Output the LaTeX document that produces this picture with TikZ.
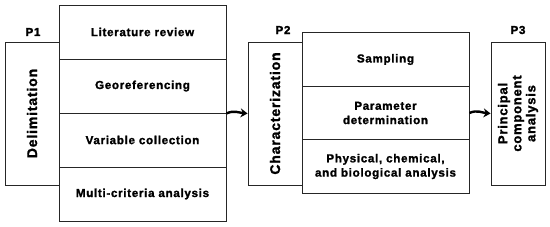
\documentclass[tikz,border=0pt]{standalone}
\usepackage{fontspec}
\setmainfont{Liberation Sans}[LetterSpace=6,BoldFeatures={FakeBold=1.6}]
\usetikzlibrary{arrows.meta}
\begin{document}
\begin{tikzpicture}[x=1pt,y=-1pt,
  box/.style={draw=black!85,line width=0.9pt,inner sep=0pt,font=\bfseries\fontsize{11.6}{14.3}\selectfont,align=center},
  side/.style={box,minimum width=54pt,minimum height=143pt},
  rowbox/.style={box,minimum width=167pt},
  vlabel/.style={rotate=90,font=\bfseries\fontsize{14}{14}\selectfont,align=center},
  plabel/.style={font=\bfseries\fontsize{11.6}{14}\selectfont},
  flow/.style={line width=2.4pt,-{Stealth[length=7pt,width=9pt]}}]
\useasboundingbox (0,0) rectangle (550,226);
% P1
\node[side] (d) at (32,113.5) {};
\node[vlabel] (dt) at (d.center) {Delimitation};
\node[plabel] (p1) at (33,32) {P1};
\node[rowbox,minimum height=54pt] (r1) at (142.5,32) {Literature review};
\node[rowbox,minimum height=54pt] (r2) at (142.5,86) {Georeferencing};
\node[rowbox,minimum height=54pt] (r3) at (142.5,140) {Variable collection};
\node[rowbox,minimum height=54pt] (r4) at (142.5,194) {Multi-criteria analysis};
% P2
\node[side] (c) at (275,113.5) {};
\node[vlabel] (ct) at (c.center) {Characterization};
\node[plabel] (p2) at (283,30) {P2};
\node[rowbox,minimum height=53.5pt] (s1) at (385.5,59.5) {Sampling};
\node[rowbox,minimum height=53.5pt] (s2) at (385.5,113) {Parameter\\determination};
\node[rowbox,minimum height=53.5pt] (s3) at (385.5,166.5) {Physical, chemical,\\and biological analysis};
% P3
\node[side] (pc) at (518,113.5) {};
\node[vlabel,font=\bfseries\fontsize{13}{14}\selectfont] (pct) at (pc.center) {Principal\\component\\analysis};
\node[plabel] (p3) at (518,30) {P3};
% arrows
\coordinate (a1s) at (r2.south east);
\draw[flow] (a1s) to[out=25,in=175] (c.west);
\coordinate (a2s) at (s2.east);
\draw[flow] (a2s) to[out=25,in=175] (pc.west);
\end{tikzpicture}
\end{document}
